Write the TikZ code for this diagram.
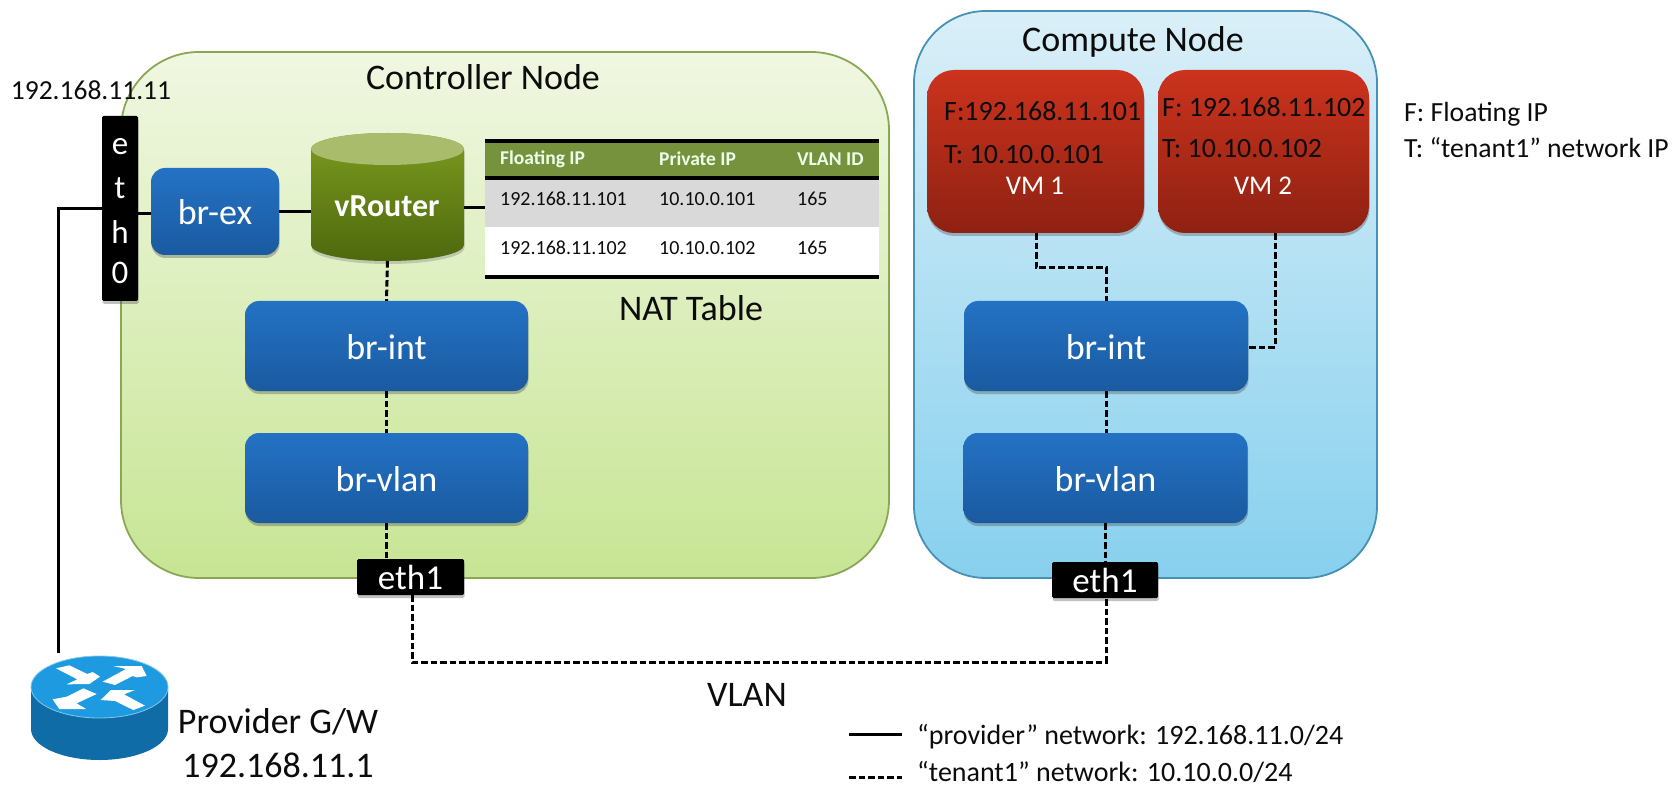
\documentclass[tikz,border=0pt]{standalone}
\usepackage{fontspec}
\setmainfont{Carlito}
\usetikzlibrary{shadows}
\newcommand{\fsz}[1]{\fontsize{#1}{#1}\selectfont}
\definecolor{txt}{HTML}{0C0C0C}
\tikzset{
  x=1pt,y=-1pt,
  softshadow/.style={drop shadow={shadow xshift=.5pt,shadow yshift=-3pt,opacity=.35,fill=black!70}},
  container/.style={draw,line width=1.8pt,rounded corners=78pt,inner sep=0pt},
  bluebox/.style={rectangle,rounded corners=14pt,top color=blue1,bottom color=blue2,text=white,font=\fsz{36},text height=27pt,text depth=0pt,inner sep=0pt,softshadow},
  vmbox/.style={rectangle,rounded corners=27pt,minimum width=#1,minimum height=163pt,top color=red1,bottom color=red2,inner sep=0pt,softshadow},
  portbox/.style={rectangle,rounded corners=1.5pt,fill=black,text=white,font=\fsz{35},inner sep=0pt,softshadow},
  title/.style={text=txt,font=\fsz{36},inner sep=0pt},
  celltext/.style={text=txt,font=\fsz{20},anchor=west,inner sep=0pt},
  headtext/.style={text=white!92!green,font=\bfseries\fsz{19.5},anchor=west,inner sep=0pt},
  vmtext/.style={text=txt,font=\fsz{27.9},anchor=west,inner sep=0pt},
  vmname/.style={text=white,font=\fsz{27},inner sep=0pt},
  note/.style={text=txt,font=\fsz{27.7},anchor=west,inner sep=0pt},
  legendtext/.style={text=txt,font=\fsz{28},anchor=west,inner sep=0pt},
  solidline/.style={draw=black,line width=3pt},
  dashline/.style={draw=black,line width=3pt,dash pattern=on 6.5pt off 3pt},
}
\definecolor{blue1}{HTML}{2472C4}
\definecolor{blue2}{HTML}{1A5AA0}
\definecolor{red1}{HTML}{CC331D}
\definecolor{red2}{HTML}{8E2112}
\begin{document}
\begin{tikzpicture}
\useasboundingbox (0,0) rectangle (1676,786);
% containers
\node[container,draw={rgb,255:red,137;green,168;blue,84},top color={rgb,255:red,240;green,247;blue,226},bottom color={rgb,255:red,199;green,229;blue,148},minimum width=768pt,minimum height=526pt] (ctrl) at (505,315) {};
\node[container,rounded corners=72pt,draw={rgb,255:red,70;green,145;blue,180},top color={rgb,255:red,218;green,239;blue,248},bottom color={rgb,255:red,135;green,208;blue,238},minimum width=463pt,minimum height=567pt] (comp) at (1145.5,294.5) {};
\node[title] (ctrlT) at (483,77) {Controller Node};
\node[title] (compT) at (1133,42) {Compute Node};
% eth0
\node[rectangle,rounded corners=1.5pt,fill=black,minimum width=36pt,minimum height=185pt,softshadow] (eth0) at (120,208.5) {};
\foreach \n/\l/\yy in {a/e/147,b/t/188,c/h/232,d/0/273}{
  \node[text=white,font=\fsz{33},inner sep=0pt] (eth0\n) at (120,\yy) {\l};
}
\node[text=txt,font=\fsz{27.5},inner sep=0pt] (ipA) at (91,90) {192.168.11.11};
% br-ex
\node[bluebox,minimum width=128pt,minimum height=87pt] (brex) at (215,211.5) {br-ex};
% vRouter cylinder
\shade[top color={rgb,255:red,124;green,155;blue,30},bottom color={rgb,255:red,78;green,104;blue,14},drop shadow={shadow xshift=.5pt,shadow yshift=-3pt,opacity=.35}]
  (311,149) -- (311,245) arc[start angle=180,end angle=360,x radius=76.5pt,y radius=16pt] -- (464,149) arc[start angle=0,end angle=180,x radius=76.5pt,y radius=16pt] -- cycle;
\fill[fill={rgb,255:red,168;green,188;blue,108}] (387.5,149) ellipse [x radius=76.5pt,y radius=16pt];
\node[inner sep=0pt,minimum width=153pt,minimum height=128pt] (vRouter) at (387.5,197) {};
\node[text=white,font=\bfseries\fsz{32},inner sep=0pt] (vRouterT) at (387,206) {vRouter};
% NAT table
\node[inner sep=0pt,minimum width=394pt,minimum height=138pt] (natTable) at (682,209) {};
\fill[fill=white] (485,227) rectangle (879,276);
\fill[fill={rgb,255:red,217;green,217;blue,217}] (485,180) rectangle (879,227);
\fill[fill={rgb,255:red,118;green,146;blue,60}] (485,142) rectangle (879,177);
\fill[black] (485,139) rectangle (879,143);
\fill[black] (485,176) rectangle (879,180);
\fill[black] (485,275) rectangle (879,279);
\node[headtext] (h1) at (500,159) {Floating IP};
\node[headtext] (h2) at (659,159) {Private IP};
\node[headtext] (h3) at (797,159) {VLAN ID};
\node[celltext] (a1) at (500,199) {192.168.11.101};
\node[celltext] (a2) at (659,199) {10.10.0.101};
\node[celltext] (a3) at (797,199) {165};
\node[celltext] (b1) at (500,248) {192.168.11.102};
\node[celltext] (b2) at (659,248) {10.10.0.102};
\node[celltext] (b3) at (797,248) {165};
\node[title] (natT) at (691,308) {NAT Table};
% controller bridges
\node[bluebox,minimum width=283pt,minimum height=90pt] (cInt) at (386.5,346) {br-int};
\node[bluebox,minimum width=283pt,minimum height=90pt] (cVlan) at (386.5,478) {br-vlan};
\node[portbox,minimum width=107pt,minimum height=36pt] (cEth) at (410.5,577) {eth1};
% compute
\node[vmbox=217pt] (vm1) at (1035.5,151.5) {};
\node[vmbox=211pt] (vm2) at (1263.5,151.5) {};
\node[vmtext] (v1f) at (944,111) {F:192.168.11.101};
\node[vmtext] (v1t) at (944,155) {T: 10.10.0.101};
\node[vmname] (v1n) at (1035,186) {VM 1};
\node[vmtext] (v2f) at (1162,107) {F: 192.168.11.102};
\node[vmtext] (v2t) at (1162,149) {T: 10.10.0.102};
\node[vmname] (v2n) at (1263,186) {VM 2};
\node[bluebox,minimum width=284pt,minimum height=90pt] (pInt) at (1106,346) {br-int};
\node[bluebox,minimum width=284pt,minimum height=90pt] (pVlan) at (1105.5,478) {br-vlan};
\node[portbox,minimum width=106pt,minimum height=36pt] (pEth) at (1105,580) {eth1};
% notes
\node[note] (n1) at (1404,114) {F: Floating IP};
\node[note] (n2) at (1404,148) {T: “tenant1” network IP};
% gateway router
\fill[fill={rgb,255:red,15;green,108;blue,166}] (31,687) -- (31,729) arc[start angle=180,end angle=360,x radius=68.5pt,y radius=31pt] -- (168,687) -- cycle;
\filldraw[fill={rgb,255:red,29;green,154;blue,224},draw={rgb,255:red,130;green,200;blue,235},line width=.8pt] (99.5,687) ellipse [x radius=68.5pt,y radius=31pt];
\begin{scope}[shift={(0,540)},x=.33333pt,y=-.33333pt]
  \fill[white] (168,385) -- (208,376) -- (262,402) -- (278,396) -- (300,410) -- (268,432) -- (200,433) -- (232,418) -- cycle;
  \fill[white] (308,425) -- (345,435) -- (398,408) -- (410,412) -- (440,408) -- (425,378) -- (340,378) -- (378,387) -- cycle;
  \fill[white] (250,445) -- (290,462) -- (230,490) -- (258,507) -- (178,507) -- (158,478) -- (200,470) -- cycle;
  \fill[white] (302,480) -- (333,450) -- (405,450) -- (372,463) -- (435,497) -- (400,510) -- (345,483) -- cycle;
\end{scope}
\node[inner sep=0pt,minimum width=137pt,minimum height=103pt] (gw) at (99.5,708.5) {};
\node[title] (gwA) at (278,722) {Provider G/W};
\node[title] (gwB) at (278,765) {192.168.11.1};
\node[title] (vlanT) at (747,695) {VLAN};
% legend
\coordinate (lgA1) at (849,734);
\coordinate (lgA2) at (902,734);
\coordinate (lgB1) at (849,777);
\coordinate (lgB2) at (902,777);
\node[legendtext] (lgAT) at (917,737) {“provider” network: 192.168.11.0/24};
\node[legendtext] (lgBT) at (917,772) {“tenant1” network: 10.10.0.0/24};
\draw[solidline] (lgA1) -- (lgA2);
\draw[dashline] (lgB1) -- (lgB2);
% solid connectors
\coordinate (gwTop) at (58,653);
\draw[solidline] (eth0.west) -| (gwTop);
\draw[solidline] ([yshift=-2.5pt]brex.west) -- ([yshift=-2.5pt]brex.west -| eth0.east);
\draw[solidline] (brex.east) -- (vRouter.west |- brex.east);
\draw[solidline] ([yshift=-11pt]vRouter.east) -- ([yshift=-11pt]vRouter.east -| natTable.west);
% dashed connectors
\draw[dashline] (vRouter.south) -- (cInt.north);
\draw[dashline] (cInt.south) -- (cVlan.south |- cVlan.north);
\draw[dashline] (cVlan.south) -- (cVlan.south |- cEth.north);
\coordinate (vlanL) at (412,662);
\coordinate (vlanR) at (1106,662);
\draw[dashline] (vlanL |- cEth.south) -- (vlanL) -- (vlanR) -- (vlanR |- pEth.south);
\draw[dashline] (pVlan.south) -- (pVlan.south |- pEth.north);
\draw[dashline] (pInt.south) -- (pInt.south |- pVlan.north);
\coordinate (k1) at (1036,268);
\coordinate (k2) at (1106,268);
\draw[dashline] (k1 |- vm1.south) -- (k1) -- (k2) -- (pInt.north);
\coordinate (k3) at (1275,347);
\draw[dashline] (k3 |- vm2.south) -- (k3) -- (pInt.east |- k3);
\end{tikzpicture}
\end{document}
